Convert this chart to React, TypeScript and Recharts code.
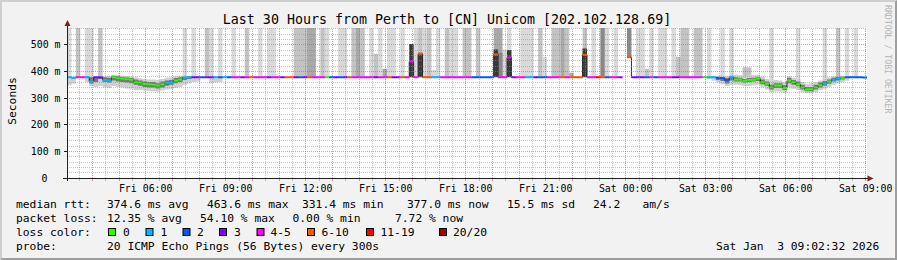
import React from "react"
import { Area, CartesianGrid, ComposedChart, Line, ReferenceLine, XAxis, YAxis } from "recharts"

const MONO = "'DejaVu Sans Mono', monospace"
const AXIS = "#1f1f1f"
const ARROW = "#801f1f"
const GRID = "rgba(140,140,140,0.5)"
const MGRID = "rgba(222,79,79,0.6)"

// first 10 minute step, in hours after Fri 00:00
const START_HOUR = 3.05
const STEP_HOURS = 1 / 6
const END_HOUR = START_HOUR + 30
const Y_TOP = 563
const HALF_LINE = 3.6 // half thickness of the median line in ms

// median rtt in ms, one value per 10 minutes (null = no data)
const median: (number | null)[] = [
  378, 376, 378, 378, 378, 362, 378, 378, 368, 366,
  378, 375, 372, 371, 369, 360, 358, 353, 352, 350,
  347, 352, 357, 359, 366, 370, 377, 378, 378, 378,
  378, 378, 378, 378, 378, 378, 378, 378, 378, 378,
  378, 378, 378, 378, 378, 378, 378, 378, 378, 378,
  378, 378, 378, 378, 378, 378, 378, 378, 378, 378,
  378, 378, 378, 378, 378, 378, 378, 378, 378, 378,
  378, 378, 378, 378, 378, 378, 378, 437, 378, 466,
  378, 378, 378, 378, 378, 378, 378, 378, 378, 378,
  378, 378, 378, 378, 378, 378, 463.6, 378, 378, 452,
  378, 378, 378, 378, 378, 378, 378, 378, 378, 378,
  378, 378, 378, 378, 378, 378, 462, 378, 378, 378,
  378, 378, 378, 378, 378, null, 453, 378, 378, 378,
  378, 378, 378, 378, 378, 378, 378, 378, 378, 378,
  378, 378, 378, 378, 378, 378, 376, 375, 367, 378,
  370, 370, 365, 368, 369, 372, 360, 354, 340, 347,
  347, 338, 366, 360, 352, 340, 332, 333, 340, 348,
  355, 362, 369, 374, 376, 378, 378, 378, 378, 377,
]

// loss class per step, index into lossColors
const lossClass = [
  1, 1, 4, 4, 1, 1, 3, 3, 1, 1,
  0, 0, 0, 0, 0, 0, 0, 0, 0, 0,
  0, 0, 1, 1, 0, 0, 1, 1, 3, 3,
  2, 3, 3, 1, 2, 1, 2, 4, 4, 3,
  4, 5, 4, 4, 4, 3, 4, 4, 3, 5,
  5, 3, 2, 3, 5, 4, 4, 4, 0, 2,
  3, 2, 3, 5, 4, 4, 4, 4, 4, 3,
  4, 4, 5, 3, 3, 5, 4, 4, 4, 5,
  5, 5, 1, 1, 4, 4, 4, 4, 4, 4,
  4, 2, 2, 2, 2, 2, 5, 4, 4, 4,
  3, 4, 4, 1, 1, 3, 2, 2, 4, 4,
  4, 5, 4, 5, 5, 5, 5, 4, 4, 6,
  5, 2, 4, 4, 3, 5, 5, 3, 3, 3,
  2, 4, 2, 4, 4, 4, 3, 3, 4, 4,
  4, 4, 4, 0, 1, 1, 2, 2, 2, 1,
  0, 0, 0, 0, 0, 0, 0, 0, 0, 0,
  0, 0, 0, 0, 0, 0, 0, 0, 0, 0,
  1, 0, 1, 1, 0, 2, 2, 2, 2, 2,
]

const lossColors = ["#26ff00", "#00b8ff", "#0059ff", "#7e00ff", "#ff00ff", "#ff5500", "#ff0000", "#a10000"]
const lossLabels = ["0", "1", "2", "3", "4-5", "6-10", "11-19", "20/20"]

// grey smoke above the median: step, top (ms), shade
const tallSteps = [
  0, 2, 4, 5, 7, 26, 28, 31, 32, 34,
  37, 40, 43, 45, 46, 51, 52, 53, 54, 55,
  57, 58, 61, 62, 64, 65, 66, 68, 69, 70,
  71, 72, 73, 75, 78, 79, 80, 81, 82, 83,
  85, 86, 87, 89, 90, 92, 96, 97, 97, 98,
  99, 102, 103, 104, 106, 107, 109, 110, 111, 112,
  113, 116, 118, 120, 121, 123, 126, 128, 129, 130,
  131, 133, 134, 136, 137, 138, 139, 141, 142, 144,
  147, 149, 152, 153, 158, 164, 170, 173, 175, 177,
]
const tallTops = [
  563, 563, 563, 563, 563, 563, 563, 563, 563, 563,
  563, 563, 563, 563, 563, 563, 563, 563, 563, 563,
  563, 563, 563, 563, 563, 563, 563, 563, 466, 563,
  410, 563, 563, 563, 563, 563, 563, 563, 405, 563,
  563, 563, 563, 563, 563, 563, 563, 563, 470, 481,
  563, 563, 563, 563, 563, 455, 563, 563, 563, 563,
  395, 563, 563, 563, 563, 563, 563, 563, 563, 410,
  563, 563, 563, 563, 455, 563, 563, 563, 563, 563,
  563, 563, 416, 416, 563, 563, 563, 563, 563, 563,
]
const tallShades = [
  1, 2, 1, 1, 2, 1, 1, 2, 1, 1,
  1, 2, 1, 1, 1, 2, 2, 2, 3, 3,
  2, 1, 1, 1, 2, 3, 2, 1, 2, 1,
  3, 1, 1, 1, 1, 2, 1, 2, 1, 1,
  2, 1, 1, 2, 2, 2, 3, 3, 4, 1,
  1, 1, 1, 1, 2, 1, 2, 2, 3, 2,
  3, 2, 1, 4, 1, 1, 4, 1, 1, 2,
  1, 1, 1, 1, 2, 2, 2, 2, 2, 1,
  1, 1, 2, 2, 1, 1, 1, 2, 1, 1,
]
const shadeColors = ["none", "#d9d9d9", "#c3c3c3", "#a9a9a9", "#888888"]

// dark smoke spikes
const spikeSteps = [77, 79, 96, 99, 116]
const spikeLows = [378, 378, 378, 378, 378]
const spikeHighs = [503, 470, 482, 480, 486]

// light smoke around the median
const bandSteps = [
  0, 1, 4, 5, 6, 7, 8, 9, 10, 11, 12, 13, 14, 15, 16, 17, 18, 19, 20, 21, 22, 23, 24, 25, 26, 27, 28, 29, 32, 33, 34,
  144, 145, 146, 147, 148, 149, 150, 151, 152, 153, 154, 155, 156, 157, 158, 159, 160, 161, 162, 163, 164, 165, 166,
  167, 168, 169, 170, 171, 172, 173, 174, 175,
]
const bandLows = [
  348, 355, 360, 345, 342, 345, 340, 338, 345, 342, 340, 336, 335, 330, 330, 328, 326, 326, 325, 328, 332, 334, 338, 342, 350, 355, 360, 362, 356, 358, 360,
  372, 365, 358, 352, 345, 350, 350, 348, 345, 345, 348, 350, 340, 332, 322, 325, 325, 320, 340, 335, 330, 322, 318,
  318, 322, 330, 335, 342, 350, 355, 360, 365,
]
const bandHighs = [
  378, 378, 378, 380, 379, 379, 382, 384, 386, 386, 384, 383, 382, 378, 374, 372, 370, 370, 368, 372, 376, 378, 382, 384, 383, 382, 380, 380, 378, 378, 378,
  380, 382, 382, 384, 384, 386, 388, 386, 384, 386, 386, 388, 380, 372, 362, 368, 366, 360, 382, 376, 370, 360, 354,
  356, 360, 366, 372, 378, 382, 384, 384, 380,
]

// dark smoke close to the median
const coreSteps = [
  5, 6, 7, 8, 9, 10, 11, 12, 13, 14, 15, 16, 17, 18, 19, 20, 21, 22, 23, 24, 25, 26, 27,
  146, 147, 148, 149, 150, 151, 152, 153, 154, 155, 156, 157, 158, 159, 160, 161, 162, 163, 164, 165, 166, 167, 168,
  169, 170, 171, 172, 173, 174,
]
const coreLows = [
  355, 360, 372, 360, 358, 366, 362, 360, 358, 356, 350, 346, 342, 340, 340, 336, 340, 346, 350, 356, 360, 368, 372,
  368, 364, 355, 366, 362, 362, 358, 360, 362, 364, 352, 346, 332, 338, 338, 330, 356, 350, 344, 332, 326, 326, 332,
  340, 346, 354, 362, 366, 370,
]
const coreHighs = [
  378, 378, 378, 378, 376, 384, 382, 378, 377, 375, 370, 366, 362, 360, 360, 356, 362, 366, 368, 375, 378, 380, 380,
  378, 378, 375, 380, 378, 376, 372, 375, 376, 378, 370, 362, 350, 356, 356, 348, 376, 368, 362, 350, 342, 342, 350,
  358, 364, 370, 376, 380, 380,
]

const labelHours = [6, 9, 12, 15, 18, 21, 24, 27, 30, 33]
const labelTexts = ["Fri 06:00", "Fri 09:00", "Fri 12:00", "Fri 15:00", "Fri 18:00", "Fri 21:00", "Sat 00:00", "Sat 03:00", "Sat 06:00", "Sat 09:00"]
const msTicks = [0, 100, 200, 300, 400, 500]
const halfHours = Array.from({ length: 60 }, (_, i) => 3.5 + i * 0.5)
const gridMs = Array.from({ length: 28 }, (_, i) => 20 + i * 20)

// build the chart table, one row per step plus a closing row
const rows: any[] = []
let prev = median[0] as number
for (let i = 0; i <= median.length; i++) {
  const k = Math.min(i, median.length - 1)
  const m = median[k]
  const base = m ?? prev
  if (m != null) prev = m
  const row: any = { t: START_HOUR + i * STEP_HOURS, median: m }
  for (let s = 1; s <= 4; s++) row["tall" + s] = [base, base]
  row.band = [base, base]
  row.core = [base, base]
  row.spike = [base, base]
  for (let c = 0; c < lossColors.length; c++) {
    row["c" + c] = m != null && lossClass[k] === c ? [m - HALF_LINE, m + HALF_LINE] : [base, base]
  }
  tallSteps.forEach((st, j) => {
    if (st === k) row["tall" + tallShades[j]] = [base, tallTops[j]]
  })
  const b = bandSteps.indexOf(k)
  if (b >= 0) row.band = [bandLows[b], bandHighs[b]]
  const c = coreSteps.indexOf(k)
  if (c >= 0) row.core = [coreLows[c], coreHighs[c]]
  const sp = spikeSteps.indexOf(k)
  if (sp >= 0) row.spike = [spikeLows[sp], spikeHighs[sp]]
  rows.push(row)
}

function TimeTick(props: any) {
  const { x, y, payload } = props
  const h = payload.value as number
  const idx = labelHours.indexOf(h)
  const onHour = Number.isInteger(h)
  const px = Math.floor(x) + 0.5
  return (
    <g>
      <line x1={px} x2={px} y1={y + 1} y2={y + 3} stroke={onHour ? MGRID : GRID} />
      {idx >= 0 && (
        <text x={x} y={y + 13.5} textAnchor="middle" fontFamily={MONO} fontSize={9.9} fill="#000">
          {labelTexts[idx]}
        </text>
      )}
    </g>
  )
}

function MsTick(props: any) {
  const { x, y, payload } = props
  const v = payload.value as number
  const py = Math.floor(y) + 0.5
  return (
    <g>
      <line x1={x - 3} x2={x} y1={py} y2={py} stroke={AXIS} />
      <text x={v === 0 ? x - 19.5 : x - 6.5} y={y + 3.6} textAnchor="end" fontFamily={MONO} fontSize={9.9} fill="#000">
        {v === 0 ? "0" : `${v} m`}
      </text>
    </g>
  )
}

const statRows: [number, string][][] = [
  [[16, "median rtt:"], [107, "374.6 ms avg"], [207, "463.6 ms max"], [302, "331.4 ms min"], [407, "377.0 ms now"], [507, "15.5 ms sd"], [593, "24.2"], [642.5, "am/s"]],
  [[16, "packet loss:"], [107, "12.35 % avg"], [200, "54.10 % max"], [292.5, "0.00 % min"], [395, "7.72 % now"]],
]
const swatchX = [108, 145.5, 182.5, 219, 256.5, 307, 366, 439]
const swatchLabelX = [123, 160.5, 197, 234, 270.5, 321.5, 380.5, 453]

export default function App() {
  return (
    <div style={{ position: "relative", width: 897, height: 260, background: "#f2f2f2", overflow: "hidden" }}>
      <style>{"body{margin:0}"}</style>
      <ComposedChart
        width={897}
        height={260}
        data={rows}
        margin={{ top: 28, right: 30, bottom: 52, left: 7 }}
        style={{ position: "absolute", left: 0, top: 0 }}
      >
        <CartesianGrid fill="#ffffff" horizontal={false} vertical={false} stroke="none" />
        <XAxis
          type="number"
          dataKey="t"
          domain={[START_HOUR, END_HOUR]}
          allowDataOverflow
          ticks={halfHours}
          interval={0}
          tick={(p: any) => <TimeTick {...p} />}
          tickLine={false}
          tickSize={0}
          tickMargin={0}
          axisLine={false}
          height={30}
        />
        <YAxis
          type="number"
          domain={[0, Y_TOP]}
          allowDataOverflow
          ticks={msTicks}
          interval={0}
          tick={(p: any) => <MsTick {...p} />}
          tickLine={false}
          tickSize={0}
          tickMargin={0}
          axisLine={false}
          width={60}
        />
        {[1, 2, 3, 4].map((s) => (
          <Area
            key={"tall" + s}
            type="stepAfter"
            dataKey={"tall" + s}
            fill={shadeColors[s]}
            fillOpacity={1}
            stroke="none"
            dot={false}
            activeDot={false}
            isAnimationActive={false}
            zIndex={100 + s}
          />
        ))}
        <Area type="stepAfter" dataKey="band" fill="#d0d0d0" fillOpacity={1} stroke="none" dot={false} activeDot={false} isAnimationActive={false} zIndex={110} />
        <Area type="stepAfter" dataKey="core" fill="#777777" fillOpacity={1} stroke="none" dot={false} activeDot={false} isAnimationActive={false} zIndex={111} />
        <Area type="stepAfter" dataKey="spike" fill="#3a3a3a" fillOpacity={1} stroke="none" dot={false} activeDot={false} isAnimationActive={false} zIndex={112} />
        <Line type="stepAfter" dataKey="median" stroke="#2b2b2b" strokeWidth={1} dot={false} activeDot={false} isAnimationActive={false} zIndex={113} />
        {lossColors.map((col, c) => (
          <Area
            key={"c" + c}
            type="stepAfter"
            dataKey={"c" + c}
            fill={col}
            fillOpacity={1}
            stroke="none"
            dot={false}
            activeDot={false}
            isAnimationActive={false}
            zIndex={120 + c}
          />
        ))}
        {halfHours.map((h) => (
          <ReferenceLine
            key={"v" + h}
            x={h}
            stroke={Number.isInteger(h) ? MGRID : GRID}
            strokeDasharray="1 1"
            shapeRendering="crispEdges"
          />
        ))}
        {gridMs.map((v) => (
          <ReferenceLine
            key={"h" + v}
            y={v}
            stroke={v % 100 === 0 ? MGRID : GRID}
            strokeDasharray="1 1"
            shapeRendering="crispEdges"
          />
        ))}
      </ComposedChart>
      <svg width={897} height={260} style={{ position: "absolute", left: 0, top: 0, pointerEvents: "none" }}>
        <line x1={67.5} y1={181} x2={67.5} y2={25} stroke={AXIS} />
        <polygon points="67.5,20 64.5,26 70.5,26" fill={ARROW} />
        <line x1={63} y1={178.5} x2={868} y2={178.5} stroke={AXIS} />
        <polygon points="873.5,178.5 867.5,175.5 867.5,181.5" fill={ARROW} />
        <text x={447} y={24} textAnchor="middle" fontFamily={MONO} fontSize={13.3} fill="#000">
          Last 30 Hours from Perth to [CN] Unicom [202.102.128.69]
        </text>
        <text transform="translate(15.5,101) rotate(-90)" textAnchor="middle" fontFamily={MONO} fontSize={11.3} fill="#000">
          Seconds
        </text>
        <text transform="translate(885,5) rotate(90)" fontFamily={MONO} fontSize={8.2} fill="#b5b5b5">
          RRDTOOL / TOBI OETIKER
        </text>
        {statRows.map((r, ri) =>
          r.map(([x, s], j) => (
            <text key={ri + "-" + j} x={x} y={208.3 + ri * 14} fontFamily={MONO} fontSize={11.3} fill="#000" style={{ whiteSpace: "pre" }}>
              {s}
            </text>
          ))
        )}
        <text x={16} y={236.3} fontFamily={MONO} fontSize={11.3} fill="#000">loss color:</text>
        {lossColors.map((col, i) => (
          <g key={"sw" + i}>
            <rect x={swatchX[i] + 0.5} y={228.5} width={7} height={7} fill={col} stroke="#000" />
            <text x={swatchLabelX[i]} y={236.3} fontFamily={MONO} fontSize={11.3} fill="#000">{lossLabels[i]}</text>
          </g>
        ))}
        <text x={16} y={250.3} fontFamily={MONO} fontSize={11.3} fill="#000">probe:</text>
        <text x={107} y={250.3} fontFamily={MONO} fontSize={11.3} fill="#000">20 ICMP Echo Pings (56 Bytes) every 300s</text>
        <text x={716} y={250.3} fontFamily={MONO} fontSize={11.3} fill="#000" style={{ whiteSpace: "pre" }}>
          Sat Jan  3 09:02:32 2026
        </text>
      </svg>
      <div
        style={{
          position: "absolute",
          left: 0,
          top: 0,
          width: 897,
          height: 260,
          boxSizing: "border-box",
          borderTop: "2px solid #cfcfcf",
          borderLeft: "2px solid #cfcfcf",
          borderBottom: "2px solid #9e9e9e",
          borderRight: "2px solid #9e9e9e",
          pointerEvents: "none",
        }}
      />
    </div>
  )
}
